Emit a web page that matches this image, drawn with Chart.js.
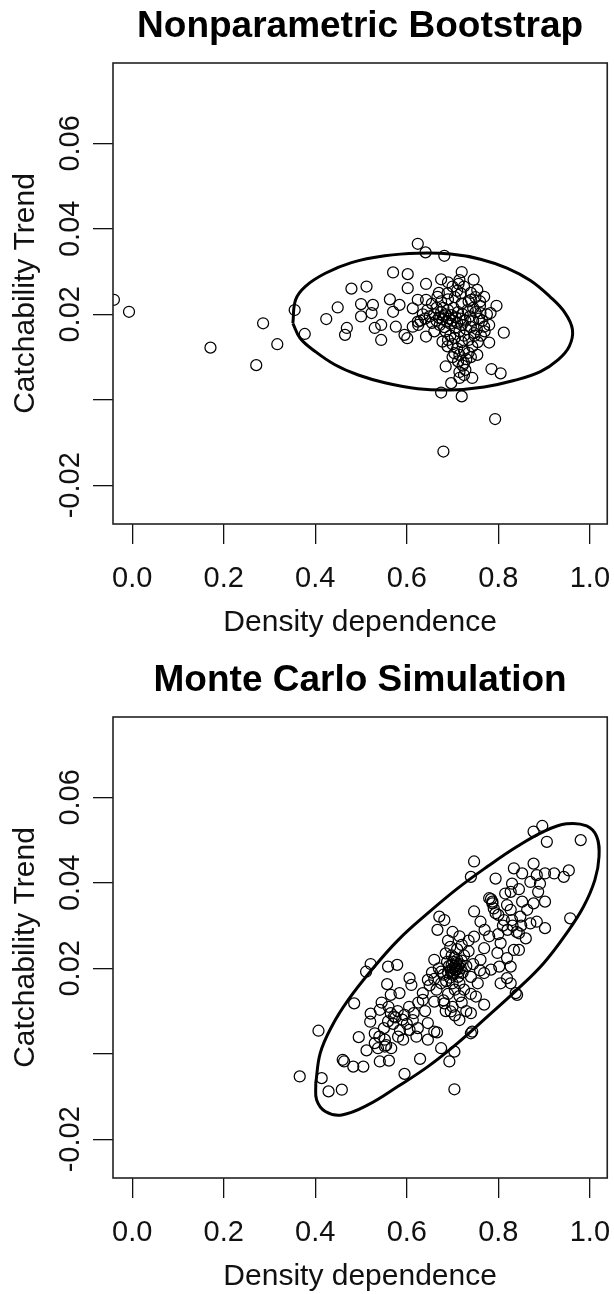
<!DOCTYPE html>
<html lang="en">
<head>
<meta charset="UTF-8">
<title>Density dependence vs Catchability Trend</title>
<script src="https://cdn.jsdelivr.net/npm/chart.js@4.4.1/dist/chart.umd.min.js"></script>
<style>
    html, body { margin: 0; padding: 0; background: #fff; overflow: hidden; }
    canvas { position: absolute; left: 0; }
    #bootChart { top: 0; }
    #mcChart { top: 654px; }
</style>
</head>
<body>
<canvas id="bootChart" width="614" height="654"></canvas>
<canvas id="mcChart" width="614" height="654"></canvas>
<script>
// axis ticks shared by both panels
const xTicks = [0, 0.2, 0.4, 0.6, 0.8, 1.0];
const xTickLabels = ['0.0', '0.2', '0.4', '0.6', '0.8', '1.0'];
const yTicks = [-0.02, 0, 0.02, 0.04, 0.06];
const yTickLabels = ['-0.02', '', '0.02', '0.04', '0.06'];

// nonparametric bootstrap estimates [density dependence, catchability trend]
const bootPoints = [
    [-0.040, 0.0234], [-0.007, 0.0206], [0.171, 0.0122], [0.271, 0.0081], [0.286, 0.0179],
    [0.317, 0.0130], [0.355, 0.0210], [0.377, 0.0154], [0.424, 0.0189], [0.449, 0.0216],
    [0.479, 0.0260], [0.512, 0.0265], [0.500, 0.0224], [0.500, 0.0195], [0.469, 0.0168],
    [0.465, 0.0152], [0.526, 0.0222], [0.523, 0.0203], [0.530, 0.0168], [0.544, 0.0175],
    [0.544, 0.0140], [0.563, 0.0235], [0.570, 0.0298], [0.570, 0.0206], [0.576, 0.0171],
    [0.584, 0.0222], [0.595, 0.0152], [0.601, 0.0144], [0.602, 0.0294], [0.602, 0.0261],
    [0.624, 0.0365], [0.641, 0.0345], [0.682, 0.0337], [0.642, 0.0271], [0.675, 0.0282],
    [0.720, 0.0299], [0.746, 0.0281], [0.713, 0.0271], [0.754, 0.0257], [0.769, 0.0241],
    [0.796, 0.0220], [0.812, 0.0157], [0.783, 0.0203], [0.780, 0.0134], [0.785, 0.0072],
    [0.805, 0.0062], [0.793, -0.0045], [0.680, -0.0121], [0.675, 0.0017], [0.720, 0.0008],
    [0.685, 0.0078], [0.697, 0.0039], [0.715, 0.0051], [0.725, 0.0058], [0.743, 0.0051],
    [0.725, 0.0086], [0.754, 0.0105], [0.704, 0.0109], [0.689, 0.0125], [0.678, 0.0136],
    [0.642, 0.0148], [0.613, 0.0171], [0.624, 0.0183], [0.613, 0.0214], [0.624, 0.0234],
    [0.642, 0.0234], [0.667, 0.0241], [0.689, 0.0249], [0.718, 0.0249], [0.740, 0.0234],
    [0.761, 0.0203], [0.769, 0.0171], [0.747, 0.0156],
    [0.640, 0.0190], [0.650, 0.0195], [0.655, 0.0180], [0.660, 0.0200], [0.665, 0.0185],
    [0.670, 0.0192], [0.672, 0.0175], [0.675, 0.0205], [0.678, 0.0188], [0.680, 0.0196],
    [0.682, 0.0170], [0.685, 0.0200], [0.688, 0.0183], [0.690, 0.0210], [0.692, 0.0190],
    [0.695, 0.0178], [0.697, 0.0198], [0.700, 0.0185], [0.702, 0.0215], [0.705, 0.0168],
    [0.707, 0.0193], [0.710, 0.0180], [0.712, 0.0205], [0.715, 0.0160], [0.718, 0.0190],
    [0.720, 0.0175], [0.722, 0.0200], [0.725, 0.0150], [0.728, 0.0185], [0.730, 0.0165],
    [0.733, 0.0210], [0.735, 0.0140], [0.738, 0.0195], [0.740, 0.0170], [0.743, 0.0125],
    [0.745, 0.0185], [0.748, 0.0150], [0.750, 0.0205], [0.753, 0.0165], [0.755, 0.0135],
    [0.758, 0.0190], [0.760, 0.0220], [0.700, 0.0130], [0.705, 0.0145], [0.710, 0.0120],
    [0.715, 0.0105], [0.720, 0.0135], [0.725, 0.0115], [0.730, 0.0095], [0.712, 0.0090],
    [0.722, 0.0080], [0.735, 0.0110], [0.695, 0.0150], [0.690, 0.0140], [0.685, 0.0160],
    [0.660, 0.0160], [0.665, 0.0215], [0.655, 0.0225], [0.645, 0.0210], [0.635, 0.0200],
    [0.630, 0.0185], [0.625, 0.0175], [0.675, 0.0230], [0.690, 0.0235], [0.705, 0.0240],
    [0.720, 0.0225], [0.735, 0.0230], [0.745, 0.0215], [0.750, 0.0240], [0.765, 0.0185],
    [0.770, 0.0160], [0.762, 0.0150], [0.740, 0.0100], [0.728, 0.0070], [0.715, 0.0065],
    [0.700, 0.0100], [0.680, 0.0215], [0.670, 0.0250], [0.710, 0.0255], [0.700, 0.0265],
    [0.725, 0.0265], [0.740, 0.0250], [0.760, 0.0230], [0.775, 0.0200], [0.780, 0.0175],
    [0.690, 0.0275], [0.715, 0.0280]
];

// confidence ellipse outline for the bootstrap panel
const bootEllipse = [
    [0.351, 0.0179], [0.357, 0.0234], [0.378, 0.0265], [0.422, 0.0296], [0.479, 0.0321],
    [0.552, 0.0337], [0.624, 0.0343], [0.696, 0.0341], [0.761, 0.0329], [0.819, 0.0308],
    [0.870, 0.0279], [0.913, 0.0241], [0.946, 0.0203], [0.962, 0.0164], [0.955, 0.0125],
    [0.931, 0.0094], [0.892, 0.0066], [0.834, 0.0045], [0.769, 0.0030], [0.696, 0.0023],
    [0.624, 0.0026], [0.552, 0.0040], [0.494, 0.0058], [0.443, 0.0082], [0.400, 0.0113],
    [0.367, 0.0144], [0.351, 0.0179]
];

// Monte Carlo simulation estimates
const mcPoints = [
    [0.366, -0.0053], [0.407, 0.0054], [0.414, -0.0057], [0.429, -0.0088], [0.458, -0.0084],
    [0.460, -0.0014], [0.463, -0.0018], [0.483, -0.0030], [0.505, -0.0030], [0.495, 0.0039],
    [0.512, 0.0008], [0.485, 0.0118], [0.511, 0.0192], [0.521, 0.0210], [0.521, 0.0094],
    [0.541, 0.0103], [0.559, 0.0204], [0.579, 0.0208], [0.557, 0.0163], [0.565, 0.0138],
    [0.584, 0.0142], [0.606, 0.0177], [0.610, 0.0161], [0.572, 0.0087], [0.559, 0.0076],
    [0.595, 0.0091], [0.613, 0.0079], [0.624, 0.0060], [0.646, 0.0072], [0.660, 0.0052],
    [0.646, 0.0033], [0.666, 0.0050], [0.675, 0.0013], [0.704, 0.0005], [0.693, -0.0018],
    [0.704, -0.0083], [0.629, -0.0012], [0.595, -0.0047], [0.561, -0.0016], [0.541, -0.0018],
    [0.537, 0.0013], [0.552, 0.0017], [0.566, 0.0013], [0.552, 0.0033], [0.530, 0.0048],
    [0.581, 0.0040], [0.592, 0.0033], [0.606, 0.0056], [0.621, 0.0040], [0.635, 0.0126],
    [0.635, 0.0142], [0.646, 0.0173], [0.660, 0.0220], [0.675, 0.0192], [0.667, 0.0290],
    [0.671, 0.0321], [0.682, 0.0313], [0.740, 0.0048], [0.743, 0.0052], [0.740, 0.0095],
    [0.715, 0.0079], [0.696, 0.0099], [0.682, 0.0118], [0.660, 0.0122], [0.769, 0.0115],
    [0.751, 0.0134], [0.769, 0.0189], [0.761, 0.0220], [0.769, 0.0247], [0.747, 0.0274],
    [0.761, 0.0309], [0.747, 0.0333], [0.805, 0.0165], [0.819, 0.0177], [0.827, 0.0204],
    [0.819, 0.0224], [0.805, 0.0259], [0.834, 0.0243], [0.841, 0.0138], [0.827, 0.0165],
    [0.845, 0.0282], [0.831, 0.0300], [0.812, 0.0313], [0.830, 0.0313], [0.827, 0.0337],
    [0.848, 0.0321], [0.863, 0.0337], [0.870, 0.0305], [0.884, 0.0309], [0.902, 0.0294],
    [0.902, 0.0356], [0.877, 0.0352], [0.852, 0.0356], [0.819, 0.0348], [0.794, 0.0329],
    [0.787, 0.0356], [0.784, 0.0362], [0.787, 0.0352], [0.780, 0.0364], [0.827, 0.0379],
    [0.830, 0.0398], [0.794, 0.0410], [0.834, 0.0434], [0.852, 0.0422], [0.877, 0.0445],
    [0.884, 0.0418], [0.870, 0.0402], [0.891, 0.0398], [0.887, 0.0379], [0.902, 0.0422],
    [0.922, 0.0422], [0.943, 0.0414], [0.954, 0.0429], [0.957, 0.0317], [0.845, 0.0243],
    [0.747, 0.0450], [0.740, 0.0414], [0.877, 0.0520], [0.896, 0.0533], [0.906, 0.0496],
    [0.980, 0.0500], [0.838, 0.0142], [0.802, 0.0204], [0.784, 0.0197], [0.798, 0.0236],
    [0.700, 0.0200], [0.705, 0.0205], [0.710, 0.0198], [0.703, 0.0190], [0.708, 0.0212],
    [0.712, 0.0205], [0.698, 0.0208], [0.702, 0.0215], [0.706, 0.0195], [0.714, 0.0192],
    [0.696, 0.0195], [0.700, 0.0185], [0.710, 0.0220], [0.716, 0.0210], [0.692, 0.0205],
    [0.704, 0.0225], [0.718, 0.0200], [0.690, 0.0190], [0.694, 0.0178], [0.712, 0.0180],
    [0.720, 0.0218], [0.698, 0.0230], [0.722, 0.0190], [0.688, 0.0215], [0.686, 0.0170],
    [0.700, 0.0165], [0.715, 0.0165], [0.725, 0.0230], [0.730, 0.0205], [0.680, 0.0185],
    [0.685, 0.0235], [0.710, 0.0245], [0.695, 0.0250], [0.720, 0.0255], [0.735, 0.0240],
    [0.705, 0.0150], [0.690, 0.0140], [0.715, 0.0135], [0.725, 0.0150], [0.675, 0.0165],
    [0.670, 0.0200], [0.665, 0.0150], [0.680, 0.0125], [0.700, 0.0110], [0.720, 0.0120],
    [0.740, 0.0180], [0.745, 0.0210], [0.735, 0.0265], [0.715, 0.0275], [0.690, 0.0265],
    [0.700, 0.0285], [0.660, 0.0175], [0.655, 0.0190], [0.650, 0.0160], [0.685, 0.0100],
    [0.705, 0.0090], [0.730, 0.0100], [0.740, 0.0140], [0.755, 0.0165], [0.760, 0.0195],
    [0.565, 0.0095], [0.575, 0.0085], [0.580, 0.0100], [0.560, 0.0110], [0.570, 0.0070],
    [0.590, 0.0080], [0.600, 0.0070], [0.550, 0.0060], [0.585, 0.0055], [0.540, 0.0040],
    [0.530, 0.0025], [0.555, 0.0020], [0.520, 0.0075], [0.545, 0.0120], [0.605, 0.0110],
    [0.615, 0.0095], [0.625, 0.0120], [0.640, 0.0100],
    [0.790, 0.0340], [0.800, 0.0325], [0.810, 0.0300], [0.820, 0.0290], [0.840, 0.0285],
    [0.850, 0.0300], [0.860, 0.0270], [0.815, 0.0375], [0.845, 0.0385], [0.800, 0.0280],
    [0.780, 0.0275], [0.770, 0.0290]
];

// confidence ellipse outline for the Monte Carlo panel
const mcEllipse = [
    [0.401, -0.0069], [0.411, 0.0002], [0.436, 0.0064], [0.472, 0.0126], [0.523, 0.0196],
    [0.581, 0.0266], [0.646, 0.0329], [0.711, 0.0387], [0.776, 0.0438], [0.841, 0.0485],
    [0.899, 0.0520], [0.949, 0.0538], [0.993, 0.0533], [1.015, 0.0508], [1.020, 0.0461],
    [1.011, 0.0407], [0.986, 0.0344], [0.949, 0.0282], [0.899, 0.0212], [0.841, 0.0150],
    [0.776, 0.0087], [0.711, 0.0025], [0.646, -0.0030], [0.581, -0.0076], [0.516, -0.0119],
    [0.458, -0.0143], [0.422, -0.0135], [0.403, -0.0108], [0.401, -0.0069]
];

const FONT = "'Liberation Sans', Arial, sans-serif";

// closes the plot region with a full box
const frameBox = {
    id: 'frameBox',
    afterDatasetsDraw(chart) {
        const { ctx, chartArea: a } = chart;
        ctx.save();
        ctx.strokeStyle = '#222';
        ctx.lineWidth = 1.6;
        ctx.strokeRect(a.left, a.top, a.right - a.left, a.bottom - a.top);
        ctx.restore();
    }
};

function toXY(pairs) {
    return pairs.map(p => ({ x: p[0], y: p[1] }));
}

function makePanel(id, title, points, ellipse) {
    return new Chart(document.getElementById(id), {
        type: 'scatter',
        data: {
            datasets: [
                {
                    data: toXY(points),
                    pointStyle: 'circle',
                    pointRadius: 5.5,
                    pointBorderWidth: 1.25,
                    pointBorderColor: '#000',
                    pointBackgroundColor: 'rgba(0,0,0,0)'
                },
                {
                    data: toXY(ellipse),
                    showLine: true,
                    pointRadius: 0,
                    borderColor: '#000',
                    borderWidth: 3,
                    tension: 0.4
                }
            ]
        },
        options: {
            responsive: false,
            animation: false,
            events: [],
            layout: { padding: { left: 0, right: 3.5, top: 0, bottom: 0 } },
            plugins: {
                legend: { display: false },
                tooltip: { enabled: false },
                title: {
                    display: true,
                    text: title,
                    fullSize: false,
                    color: '#000',
                    font: { family: FONT, size: 37, weight: 'bold' },
                    padding: { top: 4.2, bottom: 14.4 }
                }
            },
            scales: {
                x: {
                    type: 'linear',
                    min: -0.042,
                    max: 1.038,
                    afterBuildTicks: s => { s.ticks = xTicks.map(v => ({ value: v })); },
                    afterFit: s => { s.height = 130; s.paddingLeft = 0; s.paddingRight = 0; },
                    border: { display: false },
                    grid: { drawOnChartArea: false, drawTicks: true, tickLength: 20, color: '#111', lineWidth: 1.3 },
                    ticks: {
                        padding: 18,
                        color: '#111',
                        font: { family: FONT, size: 29 },
                        maxRotation: 0,
                        callback: (v, i) => xTickLabels[i]
                    },
                    title: {
                        display: true,
                        text: 'Density dependence',
                        color: '#111',
                        font: { family: FONT, size: 30 },
                        padding: { top: 0, bottom: 13 }
                    }
                },
                y: {
                    type: 'linear',
                    min: -0.02906,
                    max: 0.0788,
                    afterBuildTicks: s => { s.ticks = yTicks.map(v => ({ value: v })); },
                    afterFit: s => { s.width = 113; s.paddingTop = 0; s.paddingBottom = 0; },
                    border: { display: false },
                    grid: { drawOnChartArea: false, drawTicks: true, tickLength: 20, color: '#111', lineWidth: 1.3 },
                    ticks: {
                        padding: -11,
                        crossAlign: 'center',
                        minRotation: 90,
                        maxRotation: 90,
                        color: '#111',
                        font: { family: FONT, size: 29 },
                        callback: (v, i) => yTickLabels[i]
                    },
                    title: {
                        display: true,
                        text: 'Catchability Trend',
                        color: '#111',
                        font: { family: FONT, size: 30 },
                        padding: { top: 8, bottom: 0 }
                    }
                }
            }
        },
        plugins: [frameBox]
    });
}

makePanel('bootChart', 'Nonparametric Bootstrap', bootPoints, bootEllipse);
makePanel('mcChart', 'Monte Carlo Simulation', mcPoints, mcEllipse);
</script>
</body>
</html>
